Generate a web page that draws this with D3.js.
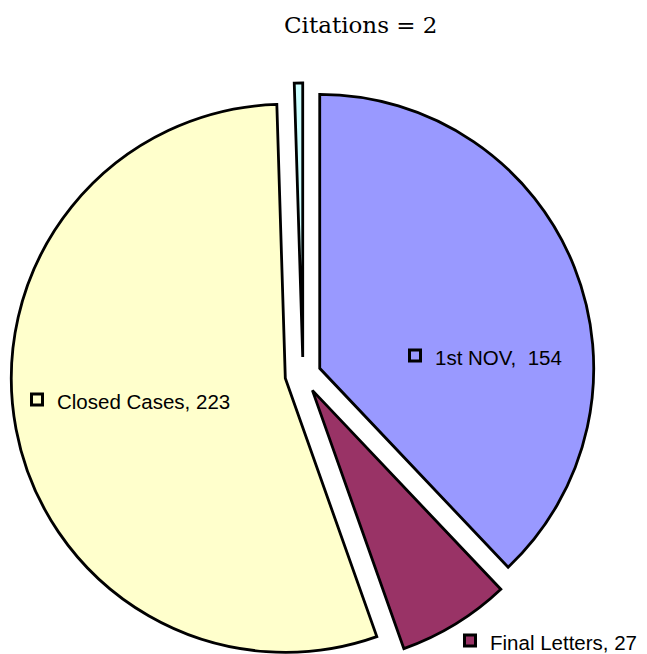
<!DOCTYPE html>
<html>
<head>
<meta charset="utf-8">
<script src="https://cdn.jsdelivr.net/npm/d3@7"></script>
<style>
  body { margin: 0; background: #fff; }
  .lbl { font-family: "Liberation Sans", Arial, sans-serif; font-size: 20.5px; fill: #000; }
  .ttl { font-family: "DejaVu Serif", serif; font-size: 23px; fill: #000; }
</style>
</head>
<body>
<div id="chart"></div>
<script>
// ---------- DATA ---------- //
var categories = ["1st NOV", "Final Letters", "Closed Cases", "Citations"];
var values = [154, 27, 223, 2];
var colors = ["#9999ff", "#993366", "#ffffcc", "#ccffff"];

// ---------- LAYOUT ---------- //
var width = 647, height = 654;
var cx = 303, cy = 375, radius = 274, explode = 18;

// label anchors (left edge of key box, text baseline)
var labelPos = [
  {x: 408, y: 365, key: true},
  {x: 463, y: 650, key: true},
  {x: 30, y: 409, key: true},
  {x: 284, y: 33, key: false}
];

var svg = d3.select("#chart").append("svg")
  .attr("width", width)
  .attr("height", height);

var pie = d3.pie().sort(null).value(d => d.value);
var arc = d3.arc().innerRadius(0).outerRadius(radius);

var data = pie(categories.map((c, i) => ({name: c, value: values[i], color: colors[i]})));

var g = svg.append("g").attr("transform", "translate(" + cx + "," + cy + ")");

// slices
g.selectAll("path")
  .data(data)
  .enter()
  .append("path")
  .attr("d", arc)
  .attr("fill", d => d.data.color)
  .attr("stroke", "#000")
  .attr("stroke-width", 2.8)
  .attr("stroke-linejoin", "miter")
  .attr("transform", function (d) {
    var a = (d.startAngle + d.endAngle) / 2;
    return "translate(" + (Math.sin(a) * explode) + "," + (-Math.cos(a) * explode) + ")";
  });

// labels
data.forEach(function (d, i) {
  var p = labelPos[i];
  if (p.key) {
    svg.append("rect")
      .attr("x", p.x + 1.5)
      .attr("y", p.y - 15)
      .attr("width", 11)
      .attr("height", 11)
      .attr("fill", d.data.color)
      .attr("stroke", "#000")
      .attr("stroke-width", 3);
    svg.append("text")
      .attr("class", "lbl")
      .attr("x", p.x + 27)
      .attr("y", p.y)
      .attr("xml:space", "preserve")
      .text(d.data.name + ", " + (i == 0 ? " " : "") + d.data.value);
  } else {
    svg.append("text")
      .attr("class", "ttl")
      .attr("x", p.x)
      .attr("y", p.y)
      .text(d.data.name + " = " + d.data.value);
  }
});
</script>
</body>
</html>
